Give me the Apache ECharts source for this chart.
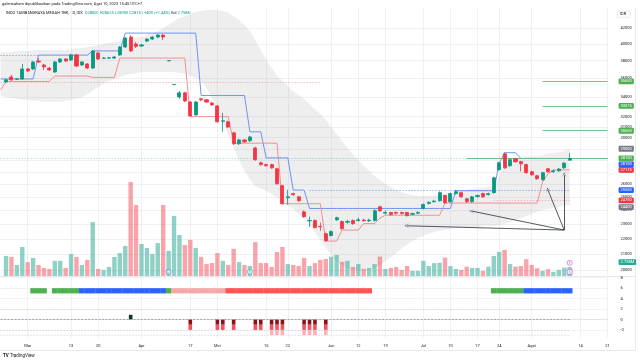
<!DOCTYPE html>
<html>
<head>
<meta charset="utf-8">
<script src="https://cdn.jsdelivr.net/npm/echarts@6.0.0/dist/echarts.min.js"></script>
<style>
html,body{margin:0;padding:0;background:#ffffff;}
#chart{width:640px;height:362px;}
</style>
</head>
<body>
<div id="chart"></div>
<script>
// ---------------- DATA ----------------
const dates = ['2023-02-22','2023-02-23','2023-02-24','2023-02-27','2023-02-28',
'2023-03-01','2023-03-02','2023-03-03','2023-03-06','2023-03-07','2023-03-08','2023-03-09','2023-03-10','2023-03-13','2023-03-14','2023-03-15','2023-03-16','2023-03-17','2023-03-20','2023-03-21','2023-03-24','2023-03-27','2023-03-28','2023-03-29','2023-03-30','2023-03-31',
'2023-04-03','2023-04-04','2023-04-05','2023-04-06','2023-04-10','2023-04-11','2023-04-12','2023-04-13','2023-04-14','2023-04-17','2023-04-18','2023-04-26','2023-04-27','2023-04-28',
'2023-05-02','2023-05-03','2023-05-04','2023-05-05','2023-05-08','2023-05-09','2023-05-10','2023-05-11','2023-05-12','2023-05-15','2023-05-16','2023-05-17','2023-05-19','2023-05-22','2023-05-23','2023-05-24','2023-05-25','2023-05-26','2023-05-29','2023-05-30','2023-05-31',
'2023-06-05','2023-06-06','2023-06-07','2023-06-08','2023-06-09','2023-06-12','2023-06-13','2023-06-14','2023-06-15','2023-06-16','2023-06-19','2023-06-20','2023-06-21','2023-06-22','2023-06-23','2023-06-26','2023-06-27',
'2023-07-03','2023-07-04','2023-07-05','2023-07-06','2023-07-07','2023-07-10','2023-07-11','2023-07-12','2023-07-13','2023-07-14','2023-07-17','2023-07-18','2023-07-20','2023-07-21','2023-07-24','2023-07-25','2023-07-26','2023-07-27','2023-07-28','2023-07-31',
'2023-08-01','2023-08-02','2023-08-03','2023-08-04','2023-08-07','2023-08-08','2023-08-09','2023-08-10'];
const futureDates = ['2023-08-11','2023-08-14','2023-08-15','2023-08-16','2023-08-17','2023-08-18','2023-08-21'];

const opens = [null,35600,36150,35900,35925,37050,37050,37950,37500,37150,36700,37850,38200,38075,38675,37500,37625,37150,38900,38275,38300,38300,38675,39625,40850,40000,39750,40350,40600,40850,41100,37975,35300,34000,34425,33475,32175,33800,33700,33375,33075,31550,31500,30450,29450,29800,29725,29075,27775,27625,27625,27275,25900,24950,25275,25025,23900,23250,23275,22850,22350,22225,23325,23200,23150,23275,23275,23300,23250,23275,24275,23800,23850,23850,23850,23850,23725,23800,24150,24525,24650,24725,25125,24650,25275,25350,24875,24650,25050,25275,25200,25350,27200,28550,27525,28125,27875,27625,27025,26700,26375,27275,27025,27100,27350,28000];
const highs = [null,35925,36375,36000,37625,37150,37950,38300,37625,37275,37950,38300,38300,38800,38800,37950,37725,39275,39025,38425,38425,38550,39750,40850,41100,40225,40000,40725,40975,41225,41225,38000,35325,34625,34525,33575,33575,33900,33800,33475,33175,32375,31600,30550,29900,29900,30175,29175,27875,27700,27700,27350,25975,25575,25350,25100,24000,23550,23350,23125,22425,22575,23550,23275,23325,23350,23475,23400,23400,24100,24350,24000,23900,23925,23925,23900,23850,23950,24525,24700,24800,25450,25200,25350,25575,25425,24950,25100,25200,25350,25350,26625,27875,28675,28150,28200,27950,27700,27100,26775,27025,27350,27200,27350,27850,28625];
const lows = [null,35500,35700,35825,35825,36700,36925,37725,36925,36825,36600,37725,37850,37950,37275,37375,37050,37050,38075,38200,38200,38200,38550,39500,39025,39500,39650,40225,40475,40725,40475,37975,35300,33800,33475,31975,32075,33575,33375,33075,31400,30550,30925,29350,29350,29525,29625,27950,27525,27450,27275,25975,24425,24425,25100,24650,23475,22825,22700,22550,21800,22150,23250,22625,23050,22975,23200,23200,23175,23200,23900,23700,23625,23700,23700,23550,23650,23725,24075,24450,24600,24650,24500,24575,25200,24950,24575,24575,24950,24950,25125,25275,27100,27275,27450,27775,27050,26875,26700,26375,26300,26950,26950,27025,27275,28000];
const closes = [null,35825,35825,35925,37050,36825,37850,37850,37275,36925,37850,38200,37950,38675,37375,37850,37150,39150,38200,38300,38325,38425,39625,40725,39150,39700,39875,40600,40850,41100,40850,38000,35325,34425,33575,32075,33475,33700,33475,33175,31500,31600,31000,29450,29800,29625,30075,28050,27625,27525,27350,26050,24500,25025,25200,24725,23550,23275,22775,22825,21875,22500,23475,22700,23200,23050,23325,23250,23300,23975,23975,23850,23700,23800,23775,23625,23775,23850,24450,24600,24700,25350,24575,25275,25425,25025,24650,25025,25125,25025,25275,26525,27775,27350,28050,27875,27700,26950,26775,26450,26950,27025,27100,27250,27750,28150];
// volume in millions of shares
const volumes = [null,6.2,5.9,3.4,9.0,4.3,5.6,3.4,2.5,2.2,4.7,4.7,2.5,6.8,5.9,3.4,5.0,16.7,2.2,1.9,2.8,5.9,7.1,9.3,29.1,22.0,9.9,8.7,6.8,10.2,22.0,7.8,18.6,12.7,9.6,11.2,8.7,5.9,3.7,4.0,7.1,4.7,3.4,8.4,4.3,3.4,3.1,10.5,4.0,4.0,2.8,7.4,9.0,3.7,3.4,3.1,5.6,3.1,4.0,5.0,5.3,6.0,6.5,4.4,4.7,2.8,3.7,2.2,2.5,3.7,6.0,2.2,2.5,2.8,1.9,3.1,1.6,1.6,4.7,3.1,4.0,4.1,5.7,3.1,2.2,1.9,2.9,2.5,2.5,1.6,2.9,6.2,7.5,8.1,3.7,2.9,3.1,5.2,3.4,2.4,1.6,2.1,1.3,1.9,2.6,2.758];

// Bollinger-style shaded band
const bbUpper = [39000,39000,39000,39150,39150,39150,39250,39250,39250,39250,39250,39250,39250,39400,39400,39500,39600,39750,39850,40000,40100,40250,40350,40500,40600,40750,40850,41100,41350,41600,42000,42400,42900,43300,43550,43850,44100,44250,44400,44400,44400,44250,44000,43550,43050,42400,41600,40500,39250,38100,37150,36350,35700,35150,34600,34200,33800,33250,32750,32250,31700,31000,30350,29700,29050,28550,28000,27500,27100,26700,26350,26050,25800,25550,25400,25250,25150,25100,25100,25100,25100,25150,25250,25300,25400,25500,25550,25650,25700,25700,25800,25850,26700,27600,27850,28000,28200,28300,28350,28350,28450,28550,28650,28700,28800,29000];
const bbLower = [34100,34000,33900,33800,33700,33700,33600,33600,33500,33500,33500,33500,33600,33700,33800,34000,34300,34650,35050,35400,35700,35900,36150,36350,36500,36600,36700,36700,36700,36700,36700,36700,36700,36600,36500,36250,36050,35700,34950,33900,32650,31500,30250,29050,28000,27100,26350,25850,25650,25500,25250,25000,24700,24400,24100,23750,23400,22950,22450,21900,21400,20950,20550,20300,20100,20000,19950,19950,20000,20100,20300,20550,20800,21050,21350,21600,21850,22050,22200,22350,22450,22550,22600,22700,22750,22750,22750,22800,22800,22900,22900,22900,22950,23050,23150,23300,23450,23600,23750,23900,24050,24100,24200,24250,24350,24400];

// stepped channel lines
const blueLine = [35925,35925,35925,35925,35925,35925,35925,38650,38650,38650,38650,38650,38650,38650,38650,38650,38650,39150,39150,39150,39150,39150,39150,41350,41350,41350,41350,41350,41350,41350,41350,41350,41350,41350,41350,41350,41350,34150,34150,34150,34150,34150,34150,34150,34150,34150,30550,30550,30550,28200,28200,28200,28200,28200,25550,25550,25550,24150,24150,24150,24150,24150,24150,24150,24150,24150,24150,24150,24150,24150,24150,24150,24150,24150,24150,24150,24150,24150,24150,24150,24150,24150,24150,24150,25500,25500,25500,25500,25500,25500,25500,25500,27750,28650,28650,28650,28150,28150,28150,28150,28150,28150,28150,28150,28150,28150];
const redLine = [34750,35650,35650,35650,35650,35650,35650,35650,35650,35650,36250,36250,36250,36250,36250,36250,36250,36100,36100,36100,36100,36100,38300,38300,38300,38300,38300,38300,38300,38300,38300,38300,38300,38300,38300,32000,32000,32000,32000,32000,32000,32000,32000,29500,29500,29500,29500,29500,29500,29500,29500,29500,24500,24500,24500,24500,24500,24500,24500,24500,21850,21850,21850,22600,22600,22600,22600,23050,23050,23050,23450,23650,23650,23650,23650,23650,23650,23650,23650,23650,23650,23650,24550,24550,24550,24550,24550,24550,24550,24550,24550,24550,24550,24550,24550,24550,24550,24550,24550,24550,26200,26850,27175,27175,27175,27175];

// horizontal dotted level extensions
const dottedLevels = [
  {from:'2023-02-22', to:'2023-03-03', value:38650, kind:'blue'},
  {from:'2023-02-22', to:'2023-05-30', value:35600, kind:'red'},
  {from:'2023-05-26', to:'2023-08-10', value:25550, kind:'blue'},
  {from:'2023-07-21', to:'2023-08-10', value:24750, kind:'red'}
];
// user-drawn horizontal levels
const drawnLevels = [
  {from:'2023-08-03', value:35650},
  {from:'2023-08-03', value:33075},
  {from:'2023-08-03', value:30650},
  {from:'2023-07-13', value:28150}
];
// arrows drawn on chart: [fromDate, fromPrice, toDate, toPrice]
const arrows = [
  ['2023-08-09', 22600, '2023-06-23', 22900],
  ['2023-08-09', 22600, '2023-07-14', 23950],
  ['2023-08-09', 22600, '2023-08-04', 25550],
  ['2023-08-09', 22600, '2023-08-09', 26750]
];

// trend strip state per bar: g=green, b=blue, p=light red, r=red
const stripState = ['','','','','','','g','g','g','','g','g','g','g','g','b','b','b','b','b','b','b','b','b','b','b','b','b','b','b','b','g','p','p','p','p','p','p','p','p','p','p','r','r','r','r','r','r','r','r','r','r','r','r','r','r','r','r','r','r','r','r','r','r','r','r','r','r','r','','','','','','','','','','','','','','','','','','','','','','','g','g','g','g','g','g','b','b','b','b','b','b','b','b','b'];
// oscillator column per bar (negative = stacked red steps, positive = dark column)
const oscDepth = [0,0,0,0,0,0,0,0,0,0,0,0,0,0,0,0,0,0,0,0,0,0,0,0,0.9,0,0,0,0,0,0,0,0,0,0,-2,0,0,0,0,-2,-2,0,-2,0,0,0,-2,-2,0,-3,-3,-3,0,0,0,-3,-3,-3,0,-3,0,0,0,0,0,0,0,0,0,0,0,0,0,0,0,0,0,0,0,0,0,0,0,0,0,0,0,0,0,0,0,0,0,0,0,0,0,0,0,0,0,0,0,0,0];
const oscLevels = [2, 0, -2, -3];

const priceTicks = [20000,21000,22000,23000,24000,25000,26000,27000,28000,29000,30000,31000,32000,34000,36000,38000,40000,42000];
const oscTicks = [8,6,4,2,0,-2];
const xLabelMap = {'2023-03-01':'Mar','2023-03-13':'13','2023-03-20':'20','2023-04-03':'Apr','2023-04-17':'17','2023-05-02':'Mei','2023-05-15':'15','2023-05-22':'22','2023-06-05':'Jun','2023-06-12':'12','2023-06-19':'19','2023-07-03':'Jul','2023-07-10':'10','2023-07-17':'17','2023-07-24':'24','2023-08-01':'Agst','2023-08-14':'14','2023-08-21':'21'};
const events = [
  {date:'2023-04-11', letter:'D', color:'#5c6bc0'},
  {date:'2023-05-10', letter:'E', color:'#26a69a'},
  {date:'2023-08-10', letter:'E', color:'#c04fd4'},
  {date:'2023-08-10', letter:'S', color:'#c04fd4'}
];

// ---------------- CHART ----------------
const FONT = 'Roboto, "Noto Sans", "DejaVu Sans", sans-serif';
const UP = '#089981', DN = '#f23645';
const VOL_UP = 'rgba(8,153,129,0.45)', VOL_DN = 'rgba(242,54,69,0.45)';
const GREEN = '#4caf50', BLUE = '#2962ff', RED = '#f23645', GRAY = '#787b86';
const cats = dates.concat(futureDates);
const lastIdx = dates.length - 1;
const lastDate = dates[lastIdx];
const lastCat = cats[cats.length - 1];
const PMIN = 19630, PMAX = 44660, VOL_MAX = 83;
const isLabel = (i, v) => !!xLabelMap[v];

function badge(v, color, dy, text) {
  return {
    yAxis: v, symbol: 'none',
    lineStyle: {color: 'rgba(0,0,0,0)', width: 0, opacity: 1},
    label: {show: true, position: 'end', distance: 11, offset: [0, dy || 0], opacity: 1,
      formatter: text || String(v), backgroundColor: color, color: '#ffffff',
      fontSize: 4, fontFamily: FONT, padding: [1.2, 2, 0.6, 2], borderRadius: 1}
  };
}

const candleMarks = [];
dottedLevels.forEach(d => {
  candleMarks.push([
    {coord: [d.from, d.value], symbol: 'none',
     lineStyle: {color: d.kind === 'blue' ? '#6b8ff2' : '#f3a0a6', width: 1.2, type: [1, 2]}},
    {coord: [d.to, d.value], symbol: 'none'}
  ]);
});
drawnLevels.forEach(d => {
  candleMarks.push([
    {coord: [d.from, d.value], symbol: 'none', lineStyle: {color: '#7cc47f', width: 1, type: 'solid'}},
    {coord: [lastCat, d.value], symbol: 'none'}
  ]);
});
candleMarks.push([
  {coord: [cats[0], closes[lastIdx]], symbol: 'none', lineStyle: {color: 'rgba(8,153,129,0.55)', width: 0.8, type: [1, 2]}},
  {coord: [lastCat, closes[lastIdx]], symbol: 'none'}
]);
arrows.forEach(a => {
  candleMarks.push([
    {coord: [a[0], a[1]], symbol: 'none', lineStyle: {color: '#2a2e39', width: 0.8, type: 'solid'}},
    {coord: [a[2], a[3]], symbol: 'path://M0,10 L5,0 L10,10 L5,2 Z', symbolSize: [5, 5]}
  ]);
});

const oscMarks = oscLevels.map(l => [
  {coord: [cats[0], l], symbol: 'none',
   lineStyle: {color: l === 0 ? '#9598a1' : '#c3c6cf', width: 0.8, type: l === 0 ? [2, 1.5] : [1, 2]}},
  {coord: [lastDate, l], symbol: 'none'}
]);

const priceBadges = [
  badge(drawnLevels[0].value, GREEN),
  badge(drawnLevels[1].value, GREEN),
  badge(drawnLevels[2].value, GREEN),
  badge(bbUpper[lastIdx], GRAY),
  badge(closes[lastIdx], GREEN),
  badge(blueLine[lastIdx], BLUE, 6),
  badge(redLine[lastIdx], RED),
  badge(dottedLevels[2].value, BLUE),
  badge(dottedLevels[3].value, RED),
  badge(bbLower[lastIdx], GRAY, 2)
];

const stripPalette = {g: '#4caf50', b: '#2962ff', p: '#f6a8a8', r: '#ff5252'};

const option = {
  animation: false,
  backgroundColor: '#ffffff',
  textStyle: {fontFamily: FONT},
  grid: [
    {left: 0.6, width: 607, top: 8, height: 268, outerBoundsMode: 'none', show: false},
    {left: 0.6, width: 607, top: 276, height: 62, outerBoundsMode: 'none', show: false}
  ],
  xAxis: [
    {type: 'category', gridIndex: 0, data: cats, boundaryGap: false,
     axisLine: {show: false}, axisTick: {show: false}, axisLabel: {show: false},
     splitLine: {show: true, interval: isLabel, lineStyle: {color: '#eef0f5', width: 1}}},
    {type: 'category', gridIndex: 1, data: cats, boundaryGap: false,
     axisLine: {show: true, lineStyle: {color: '#e0e3eb', width: 1}}, axisTick: {show: false},
     axisLabel: {show: true, interval: isLabel, hideOverlap: false, formatter: v => xLabelMap[v] || '',
       fontSize: 4, color: '#131722', margin: 6, fontFamily: FONT},
     splitLine: {show: true, interval: isLabel, lineStyle: {color: '#eef0f5', width: 1}}},
    {type: 'category', gridIndex: 1, data: cats, boundaryGap: false, show: false}
  ],
  yAxis: [
    {type: 'log', gridIndex: 0, position: 'right', min: PMIN, max: PMAX, logBase: 10,
     axisLine: {show: false}, axisTick: {show: false, customValues: priceTicks},
     axisLabel: {customValues: priceTicks, fontSize: 4, color: '#131722', margin: 13, fontFamily: FONT,
       formatter: v => String(Math.round(v))},
     splitLine: {show: true, lineStyle: {color: '#eef0f5', width: 1}}},
    {type: 'value', gridIndex: 0, min: 0, max: VOL_MAX, show: false},
    {type: 'value', gridIndex: 1, position: 'right', min: -3.54, max: 8.33,
     axisLine: {show: false}, axisTick: {show: false, customValues: oscTicks},
     axisLabel: {customValues: oscTicks, fontSize: 4, color: '#131722', margin: 13, fontFamily: FONT},
     splitLine: {show: true, lineStyle: {color: '#f1f2f6', width: 1}}}
  ],
  series: [
    {type: 'custom', name: 'BB', xAxisIndex: 0, yAxisIndex: 0, z: 1, silent: true, clip: true,
     data: [[0, 30000]], encode: {x: 0, y: 1},
     renderItem: function (params, api) {
       const pts = [];
       for (let i = 0; i < bbUpper.length; i++) pts.push(api.coord([i, bbUpper[i]]));
       for (let i = bbLower.length - 1; i >= 0; i--) pts.push(api.coord([i, bbLower[i]]));
       return {type: 'polygon', shape: {points: pts}, style: {fill: 'rgba(120,123,134,0.13)'}};
     }},
    {type: 'bar', name: 'Volume', xAxisIndex: 0, yAxisIndex: 1, z: 2, barWidth: 4.4, silent: true, clip: false,
     data: volumes.map((v, i) => v == null ? '-' : {value: v, itemStyle: {color: closes[i] >= opens[i] ? VOL_UP : VOL_DN}}),
     markLine: {silent: true, symbol: ['none', 'none'], z: 20,
       data: [badge(volumes[lastIdx], '#22ab94', -5, '2.758M')]}},
    {type: 'line', name: 'Upper', xAxisIndex: 0, yAxisIndex: 0, z: 3, data: blueLine, symbol: 'none',
     lineStyle: {color: '#6d93f2', width: 1}, silent: true, clip: false,
     markLine: {silent: true, symbol: ['none', 'none'], z: 20, data: priceBadges}},
    {type: 'line', name: 'Lower', xAxisIndex: 0, yAxisIndex: 0, z: 3, data: redLine, symbol: 'none',
     lineStyle: {color: '#f08f8f', width: 1}, silent: true},
    {type: 'candlestick', name: 'ITMG', xAxisIndex: 0, yAxisIndex: 0, z: 5, barWidth: 3.6, silent: true,
     data: opens.map((o, i) => o == null ? '-' : [o, closes[i], lows[i], highs[i]]),
     itemStyle: {color: UP, color0: DN, borderColor: UP, borderColor0: DN, borderWidth: 0.8},
     markLine: {silent: true, symbol: ['none', 'none'], label: {show: false}, data: candleMarks}},
    {type: 'scatter', name: 'events', xAxisIndex: 0, yAxisIndex: 1, z: 6, silent: true,
     data: events.map((e, k) => ({
       value: [e.date, (k === 2) ? 4.1 : 1.3],
       symbol: e.letter === 'S' ? 'rect' : 'circle', symbolSize: 5,
       itemStyle: {color: '#ffffff', borderColor: e.color, borderWidth: 0.8},
       label: {show: true, position: 'inside', formatter: e.letter, fontSize: 3, color: e.color}
     }))},
    {type: 'bar', name: 'stripBase', xAxisIndex: 2, yAxisIndex: 2, stack: 'strip', barWidth: 5.7, silent: true,
     data: stripState.map(s => s ? 5 : '-'), itemStyle: {color: 'rgba(0,0,0,0)'}},
    {type: 'bar', name: 'strip', xAxisIndex: 2, yAxisIndex: 2, stack: 'strip', barWidth: 5.7, silent: true,
     data: stripState.map(s => s ? {value: 1, itemStyle: {color: stripPalette[s]}} : '-')},
    {type: 'bar', name: 'osc1', xAxisIndex: 1, yAxisIndex: 2, stack: 'osc', barWidth: 3.6, silent: true,
     data: oscDepth.map(d => d < 0 ? -1 : (d > 0 ? {value: d, itemStyle: {color: '#0d3b17'}} : '-')),
     itemStyle: {color: '#8b1218'},
     markLine: {silent: true, symbol: ['none', 'none'], label: {show: false}, data: oscMarks}},
    {type: 'bar', name: 'osc2', xAxisIndex: 1, yAxisIndex: 2, stack: 'osc', barWidth: 3.6, silent: true,
     data: oscDepth.map(d => d <= -2 ? -1 : '-'), itemStyle: {color: '#f7525f'}},
    {type: 'bar', name: 'osc3', xAxisIndex: 1, yAxisIndex: 2, stack: 'osc', barWidth: 3.6, silent: true,
     data: oscDepth.map(d => d <= -3 ? -1 : '-'), itemStyle: {color: '#f9b3b8'}}
  ],
  graphic: [
    {type: 'text', left: 2, top: 2, silent: true,
     style: {text: 'galerisaham dipublikasikan pada TradingView.com, Agst 10, 2023 15:45 UTC+7',
       fill: '#131722', fontSize: 4, fontFamily: FONT}},
    {type: 'text', left: 6, top: 11, silent: true,
     style: {text: '{a|INDO TAMBANGRAYA MEGAH TBK, 1D, IDX}  {b|O28000 H28625 L28000 C28150 +400 (+1.44%)} {a|Vol} {b|2.758M}',
       fontSize: 4, fontFamily: FONT,
       rich: {a: {fill: '#131722', fontSize: 4, fontFamily: FONT}, b: {fill: '#089981', fontSize: 4, fontFamily: FONT}}}},
    {type: 'rect', left: 617, top: 11, silent: true, shape: {width: 13, height: 6, r: 1},
     style: {fill: '#ffffff', stroke: '#d1d4dc', lineWidth: 0.5}},
    {type: 'text', left: 620, top: 12.3, silent: true, style: {text: 'IDR', fill: '#131722', fontSize: 4, fontFamily: FONT}},
    {type: 'line', silent: true, shape: {x1: 0, y1: 276.5, x2: 635, y2: 276.5}, style: {stroke: '#e0e3eb', lineWidth: 0.8}},
    {type: 'line', silent: true, shape: {x1: 635.5, y1: 8, x2: 635.5, y2: 350}, style: {stroke: '#e0e3eb', lineWidth: 0.8}},
    {type: 'line', silent: true, shape: {x1: 0, y1: 350.5, x2: 635, y2: 350.5}, style: {stroke: '#e0e3eb', lineWidth: 0.8}},
    {type: 'text', left: 3, top: 353.5, silent: true,
     style: {text: '{t|TV} TradingView', fontSize: 4.5, fontFamily: FONT, fill: '#131722',
       rich: {t: {fontWeight: 'bold', fontSize: 4.5, fill: '#131722', fontFamily: FONT}}}}
  ]
};

const chart = echarts.init(document.getElementById('chart'), null, {renderer: 'canvas'});
chart.setOption(option);
</script>
</body>
</html>
